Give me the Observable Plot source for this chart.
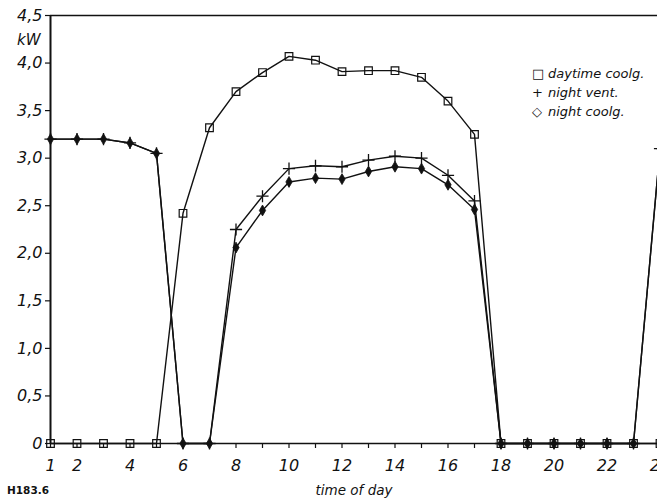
<!DOCTYPE html>
<html>
<head>
<meta charset="utf-8">
<script src="https://cdn.jsdelivr.net/npm/d3@7"></script>
<script src="https://cdn.jsdelivr.net/npm/@observablehq/plot@0.6"></script>
<style>
  html, body { margin: 0; padding: 0; background: #fff; overflow: hidden; }
  #wrap { position: relative; width: 657px; height: 501px; }
  .ann { position: absolute; font-family: "DejaVu Sans", sans-serif; color: #111; white-space: nowrap; }
  .it { font-style: italic; }
</style>
</head>
<body>
<div id="wrap">
  <div id="chart"></div>
  <div class="ann it" style="left:17px; top:31px; font-size:15px;">kW</div>
  <div class="ann" style="left:7px; top:484px; font-size:10.5px; font-weight:bold;">H183.6</div>
  <div class="ann it" style="left:532px; top:64px; font-size:13px; line-height:19px;">
    <div><span style="font-style:normal; display:inline-block; width:16px;">&#9633;</span>daytime coolg.</div>
    <div><span style="font-style:normal; display:inline-block; width:16px;">+</span>night vent.</div>
    <div><span style="font-style:normal; display:inline-block; width:16px;">&#9671;</span>night coolg.</div>
  </div>
</div>
<script>
const hours = [1,2,3,4,5,6,7,8,9,10,11,12,13,14,15,16,17,18,19,20,21,22,23,24];
const daytimeCooling = [0,0,0,0,0,2.42,3.32,3.70,3.90,4.07,4.03,3.91,3.92,3.92,3.85,3.60,3.25,0,0,0,0,0,0,0];
const nightVent      = [3.2,3.2,3.2,3.16,3.05,0,0,2.25,2.60,2.89,2.92,2.91,2.98,3.02,3.00,2.82,2.55,0,0,0,0,0,0,3.1];
const nightCooling   = [3.2,3.2,3.2,3.16,3.05,0,0,2.06,2.45,2.75,2.79,2.78,2.86,2.91,2.89,2.72,2.46,0,0,0,0,0,0,3.1];
const yTicks = [0,0.5,1,1.5,2,2.5,3,3.5,4,4.5];
const xTickLabels = [1,2,4,6,8,10,12,14,16,18,20,22,24];
const xLabel = "time of day";

const rows = (vals) => hours.map((h, i) => ({h, v: vals[i]}));
const day = rows(daytimeCooling), vent = rows(nightVent), cool = rows(nightCooling);
const fmt = d => d === 0 ? "0" : d3.format(".1f")(d).replace(".", ",");

const chart = Plot.plot({
  width: 657,
  height: 501,
  marginLeft: 50,
  marginRight: 0,
  marginTop: 15,
  marginBottom: 58,
  style: { fontFamily: "DejaVu Sans, sans-serif", background: "#fff", color: "#111" },
  x: { domain: [1, 24], range: [50, 659.5] },
  y: { domain: [0, 4.5] },
  marks: [
    Plot.axisY({ ticks: yTicks, tickFormat: fmt, tickSize: 5, tickPadding: 3, label: null,
                 fontSize: 16, fontStyle: "italic", strokeWidth: 1.2 }),
    Plot.axisX({ ticks: hours, tickFormat: () => "", tickSize: 5, label: null, strokeWidth: 1.2 }),
    Plot.axisX({ ticks: xTickLabels, tickFormat: d => String(d), tickSize: 0, tickPadding: 16,
                 fontSize: 16, fontStyle: "italic", label: xLabel, labelAnchor: "center",
                 labelArrow: "none", labelOffset: 51 }),
    Plot.ruleY([4.5], { stroke: "#111", strokeWidth: 1.5 }),
    Plot.ruleX([1], { stroke: "#111", strokeWidth: 2 }),
    Plot.ruleY([0], { stroke: "#111", strokeWidth: 1.5 }),
    Plot.line(day,  { x: "h", y: "v", stroke: "#111", strokeWidth: 1.4 }),
    Plot.line(vent, { x: "h", y: "v", stroke: "#111", strokeWidth: 1.4 }),
    Plot.line(cool, { x: "h", y: "v", stroke: "#111", strokeWidth: 1.4 }),
    Plot.dot(day,  { x: "h", y: "v", symbol: "square", r: 4.3, stroke: "#111", fill: "none", strokeWidth: 1.2 }),
    Plot.dot(vent, { x: "h", y: "v", symbol: "plus", r: 4, stroke: "#111", strokeWidth: 1.3 }),
    Plot.dot(cool, { x: "h", y: "v", symbol: "diamond", r: 3.3, fill: "#111", stroke: "#111", strokeWidth: 0.8 })
  ]
});
chart.querySelectorAll('[aria-label="x-axis label"] text, [aria-label="x-axis label"]').forEach(t => {
  t.setAttribute("font-style", "italic");
  t.setAttribute("font-size", "13.5");
});
document.getElementById("chart").appendChild(chart);
</script>
</body>
</html>
